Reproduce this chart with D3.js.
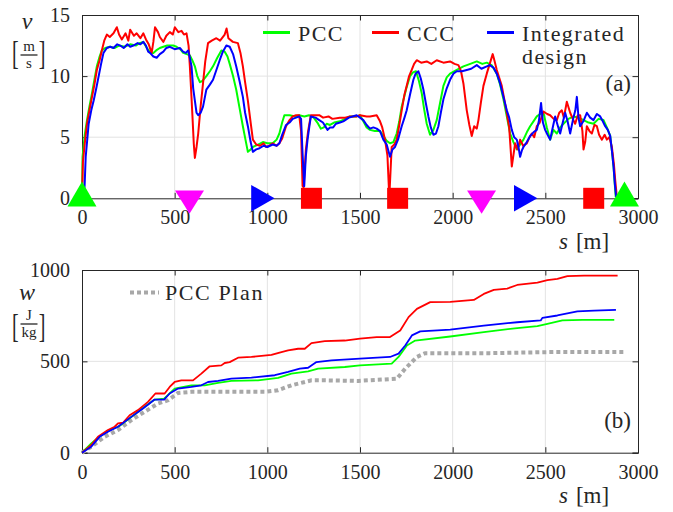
<!DOCTYPE html>
<html>
<head>
<meta charset="utf-8">
<script src="https://cdn.jsdelivr.net/npm/d3@7"></script>
<style>
  body { margin: 0; background: #fff; }
  svg text { font-family: 'Liberation Serif', 'Times New Roman', serif; fill: #262626; }
</style>
</head>
<body>
<div id="chart"></div>
<script>
// ---- data ----
// (a) speed profiles v [m/s] over distance s [m]
var sPCC = [0, 3, 15, 27, 40, 54, 67, 80, 95, 107, 125, 152, 175, 200, 230, 260, 290, 310, 331, 350, 370, 385, 400, 420, 439, 460, 492, 510, 530, 546, 565, 582, 595, 609, 622, 636, 650, 671, 690, 707, 730, 752, 770, 785, 797, 815, 832, 850, 868, 882, 895, 910, 922, 950, 976, 1000, 1029, 1050, 1065, 1080, 1092, 1120, 1150, 1172, 1200, 1225, 1250, 1270, 1289, 1305, 1320, 1338, 1360, 1392, 1420, 1446, 1482, 1500, 1518, 1536, 1554, 1580, 1608, 1626, 1644, 1662, 1680, 1698, 1712, 1725, 1750, 1770, 1786, 1802, 1818, 1833, 1846, 1860, 1878, 1896, 1914, 1932, 1950, 1968, 1986, 2022, 2058, 2095, 2130, 2160, 2184, 2210, 2238, 2256, 2274, 2292, 2310, 2328, 2346, 2364, 2382, 2400, 2418, 2436, 2454, 2472, 2490, 2508, 2526, 2544, 2562, 2580, 2598, 2625, 2652, 2680, 2706, 2733, 2760, 2787, 2814, 2832, 2850, 2860, 2868, 2874, 2880];
var vPCC = [0, 3.4, 5.2, 6.4, 7.5, 8.6, 9.7, 10.8, 11.6, 12.1, 12.3, 12.4, 12.3, 12.5, 12.4, 12.6, 12.5, 12.7, 12.8, 12.3, 11.9, 11.9, 12.1, 12.3, 12.4, 12.5, 12.5, 12.4, 12.2, 11.9, 11.8, 11.7, 11.3, 10.8, 10.0, 9.5, 9.6, 10.0, 10.4, 10.8, 11.5, 12.1, 12.0, 11.6, 11.0, 10.0, 8.9, 7.4, 5.9, 4.8, 3.8, 4.0, 4.2, 4.4, 4.6, 4.5, 4.5, 4.8, 5.3, 6.2, 6.8, 6.8, 6.7, 6.8, 6.7, 6.8, 6.6, 6.2, 5.7, 5.8, 6.1, 6.0, 6.2, 6.3, 6.5, 6.7, 6.7, 6.8, 6.3, 5.8, 5.6, 5.5, 5.5, 5.1, 4.7, 4.5, 4.6, 5.3, 6.3, 7.5, 9.0, 10.0, 10.3, 10.4, 9.6, 8.6, 7.3, 6.1, 5.2, 5.6, 6.4, 7.8, 9.2, 9.9, 10.2, 10.5, 10.8, 11.0, 11.2, 11.0, 11.1, 10.9, 10.2, 9.3, 8.1, 6.7, 5.3, 4.6, 4.0, 4.4, 4.8, 5.4, 5.9, 6.3, 6.7, 6.9, 7.0, 5.8, 4.8, 5.6, 5.3, 5.8, 6.1, 6.5, 6.7, 6.6, 6.4, 6.2, 6.1, 6.5, 6.4, 5.8, 5.1, 3.8, 2.6, 1.3, 0.1];

var sCCC = [0, 5, 15, 27, 40, 54, 67, 80, 95, 107, 120, 134, 150, 170, 188, 200, 215, 235, 250, 260, 280, 295, 315, 331, 345, 360, 376, 385, 394, 410, 420, 439, 455, 474, 490, 501, 520, 537, 550, 564, 575, 582, 590, 596, 603, 609, 618, 627, 640, 653, 665, 680, 700, 725, 745, 770, 780, 790, 814, 841, 855, 868, 880, 895, 910, 922, 940, 960, 980, 993, 1010, 1029, 1050, 1065, 1080, 1101, 1120, 1137, 1155, 1172, 1182, 1190, 1196, 1208, 1220, 1235, 1260, 1280, 1301, 1330, 1351, 1391, 1420, 1446, 1482, 1500, 1536, 1554, 1590, 1608, 1620, 1635, 1648, 1658, 1671, 1685, 1698, 1712, 1725, 1740, 1752, 1765, 1779, 1792, 1806, 1830, 1860, 1885, 1914, 1950, 1986, 2010, 2031, 2045, 2058, 2076, 2090, 2103, 2116, 2130, 2139, 2152, 2166, 2184, 2202, 2216, 2225, 2238, 2265, 2292, 2305, 2319, 2337, 2350, 2364, 2380, 2400, 2415, 2427, 2440, 2454, 2470, 2490, 2510, 2526, 2545, 2562, 2575, 2589, 2600, 2616, 2634, 2648, 2661, 2675, 2688, 2700, 2706, 2715, 2724, 2738, 2751, 2765, 2778, 2790, 2805, 2820, 2832, 2845, 2859, 2870, 2877, 2886];
var vCCC = [0, 3.0, 4.5, 6.1, 7.2, 8.3, 9.3, 10.5, 11.3, 12.1, 12.9, 13.4, 13.2, 13.5, 14.0, 13.4, 13.0, 13.5, 12.9, 13.8, 13.3, 13.5, 13.1, 13.5, 13.0, 12.6, 11.9, 12.8, 14.0, 13.6, 13.2, 12.8, 13.3, 13.6, 13.4, 14.0, 13.6, 13.7, 13.4, 13.5, 12.5, 10.8, 8.5, 6.7, 4.5, 3.3, 4.2, 5.3, 7.5, 9.4, 11.2, 12.7, 12.9, 13.1, 12.9, 13.4, 13.9, 13.1, 12.8, 12.7, 11.9, 10.8, 9.5, 8.0, 6.2, 4.8, 4.4, 4.3, 4.5, 4.2, 4.3, 4.5, 4.3, 4.5, 4.9, 5.9, 6.4, 6.7, 6.8, 6.8, 5.5, 1.0, 0.9, 4.0, 5.5, 6.8, 6.8, 6.8, 6.6, 6.7, 6.5, 6.6, 6.6, 6.7, 6.7, 6.8, 6.7, 6.7, 6.8, 6.3, 5.8, 4.8, 3.5, 0.1, 4.2, 4.4, 4.8, 6.0, 7.2, 8.5, 9.2, 10.0, 10.5, 11.0, 11.3, 11.1, 11.2, 11.0, 11.3, 11.1, 11.2, 11.0, 10.9, 10.4, 9.4, 7.2, 6.0, 5.1, 5.9, 5.7, 6.4, 7.8, 9.2, 10.2, 11.1, 11.8, 11.3, 10.5, 9.2, 7.0, 5.8, 2.6, 4.5, 4.0, 4.8, 4.3, 4.5, 5.0, 5.3, 5.0, 5.9, 6.2, 7.1, 6.9, 6.8, 6.5, 6.4, 7.0, 7.2, 6.6, 7.9, 7.0, 6.5, 6.1, 6.8, 6.8, 5.5, 4.0, 4.6, 5.9, 5.5, 5.3, 6.0, 5.9, 5.2, 4.8, 5.2, 4.8, 5.0, 4.2, 2.8, 1.5, 0.1];

var sInt = [0, 10, 14, 20, 36, 50, 63, 77, 90, 103, 116, 134, 152, 170, 190, 206, 225, 245, 260, 277, 300, 315, 331, 345, 357, 367, 385, 403, 420, 439, 455, 474, 500, 528, 545, 560, 573, 582, 591, 600, 609, 618, 627, 640, 653, 662, 671, 690, 707, 725, 743, 760, 779, 797, 815, 832, 850, 868, 880, 895, 910, 922, 940, 958, 980, 1000, 1029, 1050, 1065, 1080, 1101, 1120, 1137, 1155, 1172, 1182, 1190, 1199, 1208, 1217, 1228, 1235, 1260, 1280, 1300, 1325, 1338, 1355, 1370, 1392, 1410, 1440, 1460, 1482, 1500, 1518, 1536, 1554, 1572, 1590, 1608, 1626, 1644, 1662, 1675, 1689, 1705, 1725, 1740, 1752, 1770, 1788, 1800, 1815, 1828, 1842, 1855, 1869, 1882, 1896, 1910, 1923, 1936, 1950, 1968, 1986, 2004, 2022, 2050, 2076, 2100, 2130, 2155, 2184, 2200, 2220, 2238, 2256, 2274, 2292, 2305, 2319, 2332, 2346, 2355, 2364, 2373, 2382, 2400, 2418, 2436, 2454, 2465, 2477, 2487, 2499, 2512, 2526, 2540, 2553, 2566, 2580, 2594, 2607, 2620, 2634, 2650, 2662, 2670, 2679, 2688, 2705, 2724, 2742, 2760, 2778, 2796, 2810, 2823, 2837, 2850, 2860, 2868, 2875, 2882];
var vInt = [0, 0.5, 1.0, 3.4, 6.1, 7.2, 8.0, 9.0, 10.0, 11.0, 11.9, 12.3, 12.4, 12.3, 12.6, 12.5, 12.3, 12.6, 12.4, 12.5, 12.7, 12.6, 12.8, 12.5, 12.0, 11.9, 11.6, 11.5, 11.8, 12.0, 12.3, 12.4, 12.2, 12.3, 12.0, 11.9, 12.1, 11.5, 10.8, 9.0, 8.0, 7.0, 6.8, 7.0, 7.5, 8.2, 8.9, 9.3, 9.7, 10.5, 11.3, 12.0, 12.5, 12.4, 11.8, 10.8, 9.6, 8.3, 7.0, 5.9, 4.6, 3.8, 4.0, 4.1, 4.3, 4.2, 4.4, 4.3, 4.5, 5.2, 6.0, 6.2, 6.5, 6.6, 6.7, 6.5, 3.7, 1.0, 3.5, 4.8, 6.0, 6.7, 6.6, 6.4, 6.2, 5.6, 5.8, 5.8, 6.1, 6.2, 6.3, 6.6, 6.7, 6.8, 6.6, 6.4, 6.0, 5.7, 5.8, 5.7, 5.5, 4.8, 4.4, 3.4, 4.0, 4.2, 4.8, 5.9, 6.6, 7.2, 8.5, 9.7, 10.2, 10.4, 9.8, 8.9, 7.8, 6.7, 5.8, 5.2, 5.3, 5.9, 7.0, 8.1, 9.0, 9.7, 10.2, 10.4, 10.4, 10.5, 10.6, 10.9, 10.6, 10.8, 10.9, 10.7, 10.2, 9.4, 8.3, 7.2, 6.6, 5.6, 5.0, 4.8, 4.2, 3.4, 3.9, 4.2, 4.6, 5.1, 5.4, 5.6, 6.3, 7.8, 6.2, 5.6, 5.2, 4.8, 5.8, 6.7, 6.0, 5.3, 6.2, 7.0, 6.3, 5.3, 6.5, 7.2, 8.3, 6.6, 5.9, 6.3, 7.0, 6.6, 6.4, 6.9, 6.7, 6.3, 5.9, 5.6, 5.1, 3.8, 2.6, 1.2, 0.1];

// markers on the route (s positions)
var markStart = [0, 2927];   // green, up
var markPed = [580, 2156];   // magenta, down
var markTurn = [955, 2373];  // blue, right
var markStop = [1238, 1703, 2761]; // red squares

// (b) energy w [J/kg]
var sPCCw = [0, 50, 90, 140, 200, 338, 392, 443, 500, 590, 662, 734, 806, 950, 1058, 1130, 1220, 1274, 1418, 1500, 1671, 1708, 1753, 1798, 1987, 2168, 2348, 2457, 2511, 2592, 2700, 2872];
var wPCC = [0, 51, 85, 120, 145, 251, 291, 296, 351, 369, 369, 382, 393, 396, 409, 433, 445, 460, 469, 478, 487, 524, 587, 614, 636, 660, 682, 693, 705, 724, 727, 727];

var sCCCw = [0, 50, 86, 140, 176, 194, 221, 257, 302, 356, 396, 446, 473, 500, 536, 599, 644, 689, 752, 770, 797, 842, 914, 1022, 1076, 1112, 1166, 1202, 1238, 1310, 1418, 1500, 1590, 1662, 1717, 1762, 1807, 1879, 1987, 2114, 2168, 2222, 2294, 2348, 2457, 2511, 2565, 2619, 2709, 2890];
var wCCC = [0, 42, 87, 124, 142, 160, 164, 205, 233, 278, 324, 324, 360, 387, 396, 396, 433, 473, 478, 491, 496, 520, 524, 535, 551, 560, 569, 569, 600, 611, 614, 624, 633, 633, 669, 742, 787, 824, 825, 836, 869, 891, 898, 918, 931, 945, 951, 967, 969, 969];

var sIntw = [0, 50, 95, 140, 194, 266, 329, 392, 443, 473, 518, 590, 644, 680, 734, 806, 914, 1040, 1112, 1175, 1220, 1265, 1346, 1500, 1662, 1708, 1744, 1780, 1825, 1987, 2168, 2348, 2475, 2484, 2565, 2673, 2763, 2881];
var wInt = [0, 33, 87, 115, 142, 196, 242, 291, 291, 324, 351, 360, 369, 387, 393, 405, 411, 424, 442, 460, 465, 496, 505, 515, 524, 542, 587, 642, 664, 674, 696, 714, 724, 738, 751, 773, 778, 782];

var sPlan = [0, 50, 122, 194, 266, 338, 410, 464, 518, 590, 986, 1058, 1130, 1238, 1310, 1490, 1699, 1744, 1807, 1852, 2200, 2550, 2926];
var wPlan = [0, 33, 87, 124, 178, 224, 269, 287, 327, 333, 333, 342, 369, 396, 396, 393, 405, 460, 524, 545, 545, 551, 551];

var xTicks = [0, 500, 1000, 1500, 2000, 2500, 3000];
var vTicks = [0, 5, 10, 15];
var wTicks = [0, 500, 1000];

// ---- layout ----
var width = 673, height = 512;
var frameColor = '#262626';
var gridColor = '#e3e3e3';

var svg = d3.select('#chart').append('svg')
  .attr('width', width)
  .attr('height', height);

var x = d3.scaleLinear().domain([0, 3000]).range([82, 638]);
var yV = d3.scaleLinear().domain([0, 15]).range([198.3, 15]);
var yW = d3.scaleLinear().domain([0, 1000]).range([452.7, 270]);

function pairs(s, v) {
  return s.map(function(d, i) { return [d, v[i]]; });
}

// draws grid, ticks, labels and frame for one panel
function panel(y, yTicks, labelY) {
  var g = svg.append('g');
  var y0 = y.range()[0], y1 = y.range()[1];
  var x0 = x.range()[0], x1 = x.range()[1];

  g.selectAll('.gx').data(xTicks.slice(1, -1)).enter().append('line')
    .attr('x1', function(d) { return x(d); }).attr('x2', function(d) { return x(d); })
    .attr('y1', y0).attr('y2', y1)
    .attr('stroke', gridColor).attr('stroke-width', 1);
  g.selectAll('.gy').data(yTicks.slice(1, -1)).enter().append('line')
    .attr('x1', x0).attr('x2', x1)
    .attr('y1', function(d) { return y(d); }).attr('y2', function(d) { return y(d); })
    .attr('stroke', gridColor).attr('stroke-width', 1);

  // axes with inward ticks, on all four sides
  var tl = 5.5;
  g.append('g').attr('transform', 'translate(0,' + y0 + ')')
    .call(d3.axisBottom(x).tickValues(xTicks).tickSize(-tl).tickPadding(12).tickFormat(d3.format('d')));
  g.append('g').attr('transform', 'translate(0,' + y1 + ')')
    .call(d3.axisTop(x).tickValues(xTicks).tickSize(-tl).tickFormat(''));
  g.append('g').attr('transform', 'translate(' + x0 + ',0)')
    .call(d3.axisLeft(y).tickValues(yTicks).tickSize(-tl).tickPadding(12).tickFormat(d3.format('d')));
  g.append('g').attr('transform', 'translate(' + x1 + ',0)')
    .call(d3.axisRight(y).tickValues(yTicks).tickSize(-tl).tickFormat(''));

  g.selectAll('.domain').attr('stroke', frameColor).attr('stroke-width', 1);
  g.selectAll('.tick line').attr('stroke', frameColor).attr('stroke-width', 1);
  g.selectAll('.tick text')
    .style('font-family', "'Liberation Serif', serif")
    .style('font-size', '20px')
    .attr('fill', frameColor);

  // s [m]
  var lab = g.append('text')
    .attr('x', 559).attr('y', labelY)
    .style('font-size', '23px');
  lab.append('tspan').style('font-style', 'italic').text('s');
  lab.append('tspan').attr('dx', 8).text('[m]');
  return g;
}

var gA = panel(yV, vTicks, 249);
var gB = panel(yW, wTicks, 503);

// y labels with fraction units, brackets stretched to the fraction height
function unitLabel(sym, symY, num, den, top, bot) {
  svg.append('text').attr('x', 27).attr('y', symY)
    .attr('text-anchor', 'middle')
    .style('font-style', 'italic').style('font-size', '24px').text(sym);
  svg.append('text')
    .attr('transform', 'translate(12,' + bot + ') scale(1,1.7)')
    .style('font-size', '20px').text('[');
  svg.append('text')
    .attr('transform', 'translate(45.5,' + bot + ') scale(1,1.7)')
    .attr('text-anchor', 'end')
    .style('font-size', '20px').text(']');
  svg.append('text').attr('x', 29).attr('y', top)
    .attr('text-anchor', 'middle').style('font-size', '15px').text(num);
  svg.append('line').attr('x1', 20.5).attr('x2', 37.5)
    .attr('y1', top + 4).attr('y2', top + 4)
    .attr('stroke', '#262626').attr('stroke-width', 1.3);
  svg.append('text').attr('x', 29).attr('y', top + 17)
    .attr('text-anchor', 'middle').style('font-size', '15px').text(den);
}
unitLabel('v', 29, 'm', 's', 51, 63.5);
unitLabel('w', 300, 'J', 'kg', 320, 336.5);

// ---- (a) lines ----
var line = d3.line()
  .x(function(d) { return x(d[0]); })
  .y(function(d) { return yV(d[1]); });

var seriesA = [
  { s: sPCC, v: vPCC, color: '#00ff00' },
  { s: sCCC, v: vCCC, color: '#ff0000' },
  { s: sInt, v: vInt, color: '#0000ff' }
];
seriesA.forEach(function(ser) {
  svg.append('path')
    .datum(pairs(ser.s, ser.v))
    .attr('d', line)
    .attr('fill', 'none')
    .attr('stroke', ser.color)
    .attr('stroke-width', 2)
    .attr('stroke-linejoin', 'round');
});

// markers
var base = yV(0);
var triUp = 'M0,-16.7 L14.5,8.3 L-14.5,8.3 Z';
var triDown = 'M0,15.5 L14.5,-7.8 L-14.5,-7.8 Z';
var triRight = 'M15.6,0 L-7.8,13.3 L-7.8,-13.3 Z';

svg.selectAll('.mStart').data(markStart).enter().append('path')
  .attr('d', triUp).attr('fill', '#00ff00')
  .attr('transform', function(d) { return 'translate(' + x(d) + ',' + base + ')'; });
svg.selectAll('.mPed').data(markPed).enter().append('path')
  .attr('d', triDown).attr('fill', '#ff00ff')
  .attr('transform', function(d) { return 'translate(' + x(d) + ',' + base + ')'; });
svg.selectAll('.mTurn').data(markTurn).enter().append('path')
  .attr('d', triRight).attr('fill', '#0000ff')
  .attr('transform', function(d) { return 'translate(' + x(d) + ',' + base + ')'; });
svg.selectAll('.mStop').data(markStop).enter().append('rect')
  .attr('x', function(d) { return x(d) - 10.5; })
  .attr('y', base - 10.5)
  .attr('width', 21).attr('height', 21)
  .attr('fill', '#ff0000');

// legend (a)
var legA = [
  { name: 'PCC', color: '#00ff00', x: 263 },
  { name: 'CCC', color: '#ff0000', x: 372 },
  { name: 'Integrated', color: '#0000ff', x: 487 }
];
legA.forEach(function(l) {
  svg.append('line')
    .attr('x1', l.x).attr('x2', l.x + 27)
    .attr('y1', 32.5).attr('y2', 32.5)
    .attr('stroke', l.color).attr('stroke-width', 3);
  svg.append('text')
    .attr('x', l.x + 35).attr('y', 41)
    .style('font-size', '22px').style('letter-spacing', '1.4px')
    .text(l.name);
});
svg.append('text').attr('x', 522).attr('y', 64)
  .style('font-size', '22px').style('letter-spacing', '1.4px').text('design');
svg.append('text').attr('x', 631).attr('y', 91)
  .attr('text-anchor', 'end').style('font-size', '23px').text('(a)');

// ---- (b) lines ----
var lineW = d3.line()
  .x(function(d) { return x(d[0]); })
  .y(function(d) { return yW(d[1]); });

svg.append('path')
  .datum(pairs(sPlan, wPlan))
  .attr('d', lineW)
  .attr('fill', 'none')
  .attr('stroke', '#a8a8a8')
  .attr('stroke-width', 4)
  .attr('stroke-dasharray', '4,3');

var seriesB = [
  { s: sPCCw, w: wPCC, color: '#00ff00' },
  { s: sCCCw, w: wCCC, color: '#ff0000' },
  { s: sIntw, w: wInt, color: '#0000ff' }
];
seriesB.forEach(function(ser) {
  svg.append('path')
    .datum(pairs(ser.s, ser.w))
    .attr('d', lineW)
    .attr('fill', 'none')
    .attr('stroke', ser.color)
    .attr('stroke-width', 1.8)
    .attr('stroke-linejoin', 'round');
});

// legend (b)
svg.append('line')
  .attr('x1', 130).attr('x2', 159)
  .attr('y1', 292.5).attr('y2', 292.5)
  .attr('stroke', '#a8a8a8').attr('stroke-width', 4)
  .attr('stroke-dasharray', '4,3');
svg.append('text').attr('x', 165).attr('y', 300)
  .style('font-size', '22px').style('letter-spacing', '1.6px').text('PCC Plan');
svg.append('text').attr('x', 631).attr('y', 428)
  .attr('text-anchor', 'end').style('font-size', '23px').text('(b)');
</script>
</body>
</html>
